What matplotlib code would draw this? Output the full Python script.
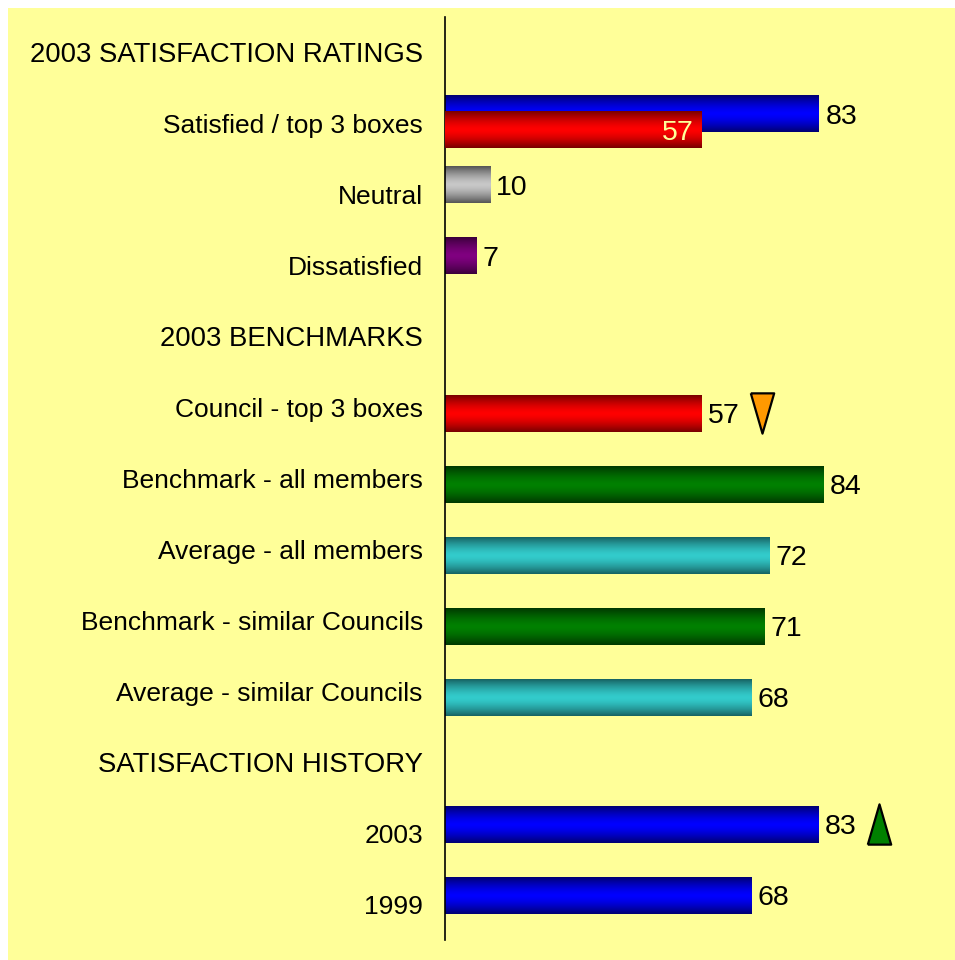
import matplotlib
matplotlib.use("Agg")
import matplotlib.pyplot as plt
import numpy as np
from matplotlib.colors import LinearSegmentedColormap
from matplotlib.patches import Rectangle

plt.rcParams["font.family"] = ["Liberation Sans", "DejaVu Sans"]

# rows from top to bottom; None = section header
categories = [
    "2003 SATISFACTION RATINGS",
    "Satisfied / top 3 boxes",
    "Neutral",
    "Dissatisfied",
    "2003 BENCHMARKS",
    "Council - top 3 boxes",
    "Benchmark - all members",
    "Average - all members",
    "Benchmark - similar Councils",
    "Average - similar Councils",
    "SATISFACTION HISTORY",
    "2003",
    "1999",
]
values = [None, 83, 10, 7, None, 57, 84, 72, 71, 68, None, 83, 68]
bar_colors = [None, "blue", "grey", "purple", None, "red", "green", "teal",
              "green", "teal", None, "blue", "blue"]
# council result drawn over the "Satisfied" bar
council_value = 57
trend = {"Council - top 3 boxes": "down", "2003": "up"}

palette = {
    "blue": ("#000070", "#0000FF"),
    "red": ("#780000", "#FF0000"),
    "grey": ("#555555", "#C8C8C8"),
    "purple": ("#3A003A", "#800080"),
    "green": ("#003800", "#008000"),
    "teal": ("#176363", "#33CCCC"),
}

BG = "#FFFF99"
BAR_H = 0.52
# bars sit a little off the label rows, differently in each section
section_nudge = [-0.14, 0.08, -0.13]


def gradient_bar(ax, y, width, height, cname, zorder=2):
    dark, light = palette[cname]
    rect = Rectangle((0, y - height / 2), width, height, facecolor="none",
                     edgecolor="none", zorder=zorder)
    ax.add_patch(rect)
    grad = np.abs(np.linspace(-1, 1, 100)) ** 1.5
    cmap = LinearSegmentedColormap.from_list(cname, [light, dark])
    im = ax.imshow(grad[:, None], cmap=cmap, vmin=0, vmax=1, aspect="auto",
                   extent=(0, width, y + height / 2, y - height / 2),
                   interpolation="bilinear", zorder=zorder)
    im.set_clip_path(rect)
    return rect


def value_label(ax, v, y, dx, **kw):
    ax.annotate(f"{v}", (v, y), xytext=(dx, 0), textcoords="offset points",
                va="center_baseline", ha="left" if dx > 0 else "right",
                fontsize=20.5, **kw)


fig = plt.figure(figsize=(9.55, 9.6), dpi=100)
fig.patch.set_facecolor("white")
fig.add_artist(Rectangle((8 / 955, 0), 1, 1 - 8 / 960, transform=fig.transFigure,
                         facecolor=BG, edgecolor="none", zorder=-10))

ax = fig.add_axes([445 / 955, 20 / 960, 510 / 955, 923 / 960])
ax.set_facecolor("none")

ys = np.arange(len(categories))
section = -1
for y, cat, v, c in zip(ys, categories, values, bar_colors):
    if v is None:
        section += 1
        continue
    yb = y + section_nudge[section]
    if cat == "Satisfied / top 3 boxes":
        gradient_bar(ax, yb, v, BAR_H, c, zorder=2)
        value_label(ax, v, yb, 5)
        yr = yb + 0.226
        gradient_bar(ax, yr, council_value, BAR_H, "red", zorder=3)
        value_label(ax, council_value, yr, -6, color=BG, zorder=5)
        continue
    gradient_bar(ax, yb, v, BAR_H, c)
    value_label(ax, v, yb, 4.5)
    if cat in trend:
        if trend[cat] == "down":
            verts = [(-0.29, 0.5), (0.29, 0.5), (0, -0.5), (-0.29, 0.5)]
            fc = "#FF9900"
        else:
            verts = [(-0.29, -0.5), (0.29, -0.5), (0, 0.5), (-0.29, -0.5)]
            fc = "#008000"
        ax.plot([v + 13.5], [yb], marker=verts, markersize=29, markerfacecolor=fc,
                markeredgecolor="black", markeredgewidth=1.6, linestyle="none",
                clip_on=False, zorder=4)

ax.set_xlim(0, 113.3)
ax.set_ylim(len(categories) - 0.5, -0.5)
ax.set_yticks(ys)
ax.set_yticklabels(categories, fontsize=19)
for lbl, v in zip(ax.get_yticklabels(), values):
    if v is None:
        lbl.set_fontsize(19.8)
ax.tick_params(axis="y", length=0, pad=16)
ax.set_xticks([])
for side in ["top", "right", "bottom"]:
    ax.spines[side].set_visible(False)
ax.spines["left"].set_linewidth(1.2)

fig.savefig("out.png", dpi=100)
